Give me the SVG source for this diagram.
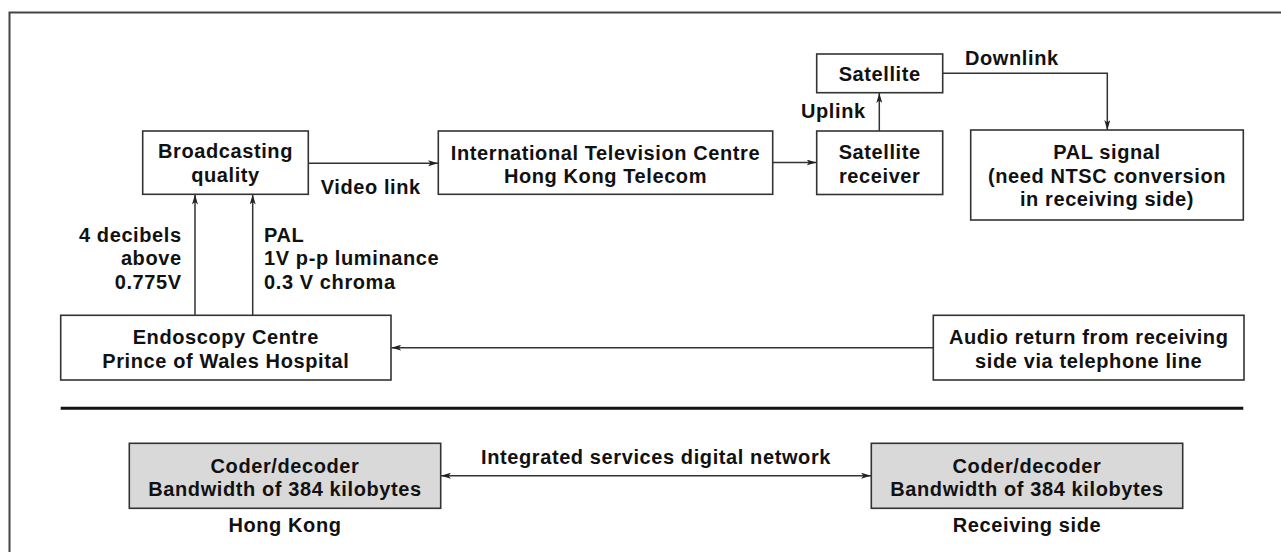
<svg xmlns="http://www.w3.org/2000/svg" width="1281" height="552" viewBox="0 0 1281 552">
<defs>
<style>
text{font-family:"Liberation Sans",Arial,sans-serif;font-weight:bold;font-size:20px;fill:#111;letter-spacing:0.6px}
.c{text-anchor:middle}
.r{text-anchor:end}
.box{fill:#fff;stroke:#333;stroke-width:1.6}
.gbox{fill:#d9d9d9;stroke:#333;stroke-width:1.6}
.ln{fill:none;stroke:#333;stroke-width:1.5}
</style>
<marker id="ah" viewBox="0 0 10 6" refX="10" refY="3" markerWidth="10" markerHeight="6" markerUnits="userSpaceOnUse" orient="auto-start-reverse">
<path d="M0,0 L10,3 L0,6 L2.5,3 Z" fill="#222"/>
</marker>
</defs>
<rect width="1281" height="552" fill="#fff"/>
<path d="M9.5,552 V12.5 H1281" fill="none" stroke="#444" stroke-width="2"/>

<g id="connectors">
<line class="ln" x1="308.3" y1="163.3" x2="438" y2="163.3" marker-end="url(#ah)"/>
<line class="ln" x1="772.7" y1="162.5" x2="816.5" y2="162.5" marker-end="url(#ah)"/>
<line class="ln" x1="879.3" y1="131" x2="879.3" y2="93" marker-end="url(#ah)"/>
<polyline class="ln" points="942.7,73.3 1107.3,73.3 1107.3,130" marker-end="url(#ah)"/>
<line class="ln" x1="195" y1="315.3" x2="195" y2="194.5" marker-end="url(#ah)"/>
<line class="ln" x1="252.7" y1="315.3" x2="252.7" y2="194.5" marker-end="url(#ah)"/>
<line class="ln" x1="933.3" y1="347.7" x2="391.3" y2="347.7" marker-end="url(#ah)"/>
<line class="ln" x1="441" y1="475.7" x2="871" y2="475.7" marker-start="url(#ah)" marker-end="url(#ah)"/>
<text x="320.7" y="194">Video link</text>
<text class="r" x="865.7" y="118.3">Uplink</text>
<text x="965" y="65">Downlink</text>
<text class="r" x="181.7" y="241.7">4 decibels</text>
<text class="r" x="181.7" y="265">above</text>
<text class="r" x="181.7" y="288.7">0.775V</text>
<text x="264" y="241.7">PAL</text>
<text x="264" y="265">1V p-p luminance</text>
<text x="264" y="288.7">0.3 V chroma</text>
<text class="c" x="656" y="463.5">Integrated services digital network</text>
</g>

<line x1="60.7" y1="408.3" x2="1243.3" y2="408.3" stroke="#111" stroke-width="3"/>

<g id="broadcasting">
<rect class="box" x="142.7" y="131" width="165.6" height="63.3"/>
<text class="c" x="225.5" y="158">Broadcasting</text>
<text class="c" x="225.5" y="181.7">quality</text>
</g>
<g id="itc">
<rect class="box" x="438.3" y="131" width="334.4" height="63.3"/>
<text class="c" x="605.5" y="159.5">International Television Centre</text>
<text class="c" x="605.5" y="183.3">Hong Kong Telecom</text>
</g>
<g id="satellite-receiver">
<rect class="box" x="816.7" y="131" width="126" height="63.5"/>
<text class="c" x="879.7" y="159">Satellite</text>
<text class="c" x="879.7" y="183.3">receiver</text>
</g>
<g id="satellite">
<rect class="box" x="816.7" y="54" width="126" height="38.7"/>
<text class="c" x="879.7" y="81">Satellite</text>
</g>
<g id="pal-signal">
<rect class="box" x="970.7" y="130" width="272.6" height="90"/>
<text class="c" x="1107" y="159">PAL signal</text>
<text class="c" x="1107" y="182.7">(need NTSC conversion</text>
<text class="c" x="1107" y="206">in receiving side)</text>
</g>
<g id="endoscopy">
<rect class="box" x="60.7" y="315.3" width="330.3" height="64.7"/>
<text class="c" x="225.8" y="344.3">Endoscopy Centre</text>
<text class="c" x="225.8" y="367.7">Prince of Wales Hospital</text>
</g>
<g id="audio-return">
<rect class="box" x="933.3" y="315.3" width="310.7" height="64.7"/>
<text class="c" x="1088.7" y="344.3">Audio return from receiving</text>
<text class="c" x="1088.7" y="368.3">side via telephone line</text>
</g>
<g id="codec-hk">
<rect class="gbox" x="129.3" y="443.3" width="311.4" height="65"/>
<text class="c" x="285" y="473.3">Coder/decoder</text>
<text class="c" x="285" y="496">Bandwidth of 384 kilobytes</text>
<text class="c" x="285" y="531.5">Hong Kong</text>
</g>
<g id="codec-rx">
<rect class="gbox" x="871.3" y="443.3" width="311.4" height="65"/>
<text class="c" x="1027" y="473.3">Coder/decoder</text>
<text class="c" x="1027" y="496">Bandwidth of 384 kilobytes</text>
<text class="c" x="1027" y="531.5">Receiving side</text>
</g>
</svg>
